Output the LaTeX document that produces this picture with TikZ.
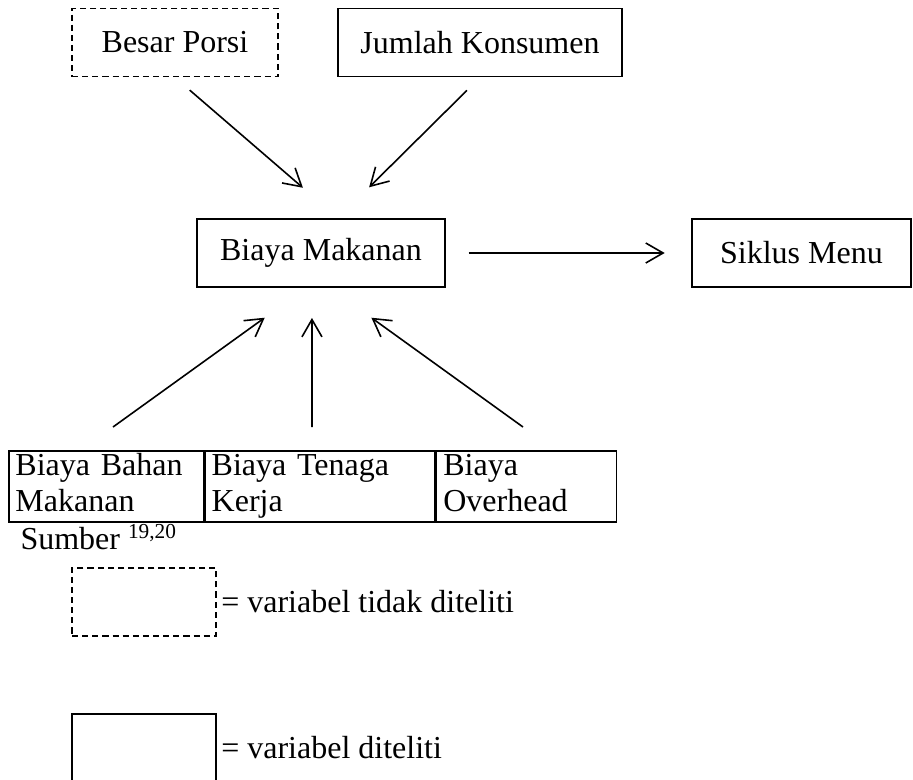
\documentclass[tikz,border=0pt]{standalone}
\usepackage{fontspec}
\setmainfont{Liberation Serif}
\usetikzlibrary{arrows.meta, positioning}

\begin{document}
\begin{tikzpicture}[x=0.375pt, y=-0.375pt,
        box/.style={draw, rectangle, line width=0.6pt, minimum height=25.6pt, inner sep=2pt, font=\fontsize{12}{13.8}\selectfont},
        notstudied/.style={box, dash pattern=on 2.3pt off 1.5pt},
        cell/.style={box, anchor=north west, align=left, text height=8.6pt, text depth=17.2pt, inner xsep=2.5pt, inner ysep=0.5pt},
        label/.style={inner sep=1.5pt, font=\fontsize{12}{13.8}\selectfont},
        arrow/.style={-{Straight Barb[length=6.5pt, width=7.5pt]}, line width=0.6pt}
    ]
        \useasboundingbox (0,0) rectangle (913,780);

        % === Upper row ===
        \node[notstudied, minimum width=77.25pt] (porsi) at (175,42.5) {Besar Porsi};
        \node[box, minimum width=106.5pt] (jumlah) at (480,42.5) {Jumlah Konsumen};

        % === Middle row ===
        \node[box, minimum width=93pt] (makanan) at (321,253) {Biaya Makanan};
        \node[box, minimum width=82pt] (siklus) at (801.5,253) {Siklus Menu};

        \draw[arrow, shorten <=7.3pt, shorten >=17.4pt] (porsi.south) -- ([xshift=6.4pt]makanan.north);
        \draw[arrow, shorten <=6.9pt, shorten >=16.4pt] (jumlah.south) -- ([xshift=6.4pt]makanan.north);
        \draw[arrow, shorten <=8.6pt, shorten >=10pt] (makanan) -- (siklus);

        % === Cost components ===
        \node[cell, text width=68pt] (bahan) at (8,450) {Biaya Bahan\\Makanan};
        \node[cell, text width=81.25pt] (tenaga) at (bahan.north east) {Biaya Tenaga\\Kerja};
        \node[cell, text width=62.5pt] (overhead) at (tenaga.north east) {Biaya\\Overhead};

        \coordinate (tl) at (113,427);
        \coordinate (tm) at (312,427);
        \coordinate (tr) at (523,427);
        \draw[arrow, shorten >=19.1pt] (tl) -- ([xshift=-5.6pt]makanan.south);
        \draw[arrow, shorten >=11.25pt] (tm) -- ([xshift=-3.4pt]makanan.south);
        \draw[arrow, shorten >=19.1pt] (tr) -- ([xshift=3.4pt]makanan.south);

        \node[label, anchor=west, inner sep=0pt] (sumber) at (20,537) {Sumber \textsuperscript{19,20}};

        % Legend
        \node[notstudied, minimum width=54pt, minimum height=25.5pt] (dleg) at (144,602) {};
        \node[label, right=0pt of dleg] (dlegtxt) {= variabel tidak diteliti};
        \node[box, minimum width=54pt, minimum height=25.5pt] (sleg) at (144,748) {};
        \node[label, right=0pt of sleg] (slegtxt) {= variabel diteliti};

    \end{tikzpicture}
\end{document}
